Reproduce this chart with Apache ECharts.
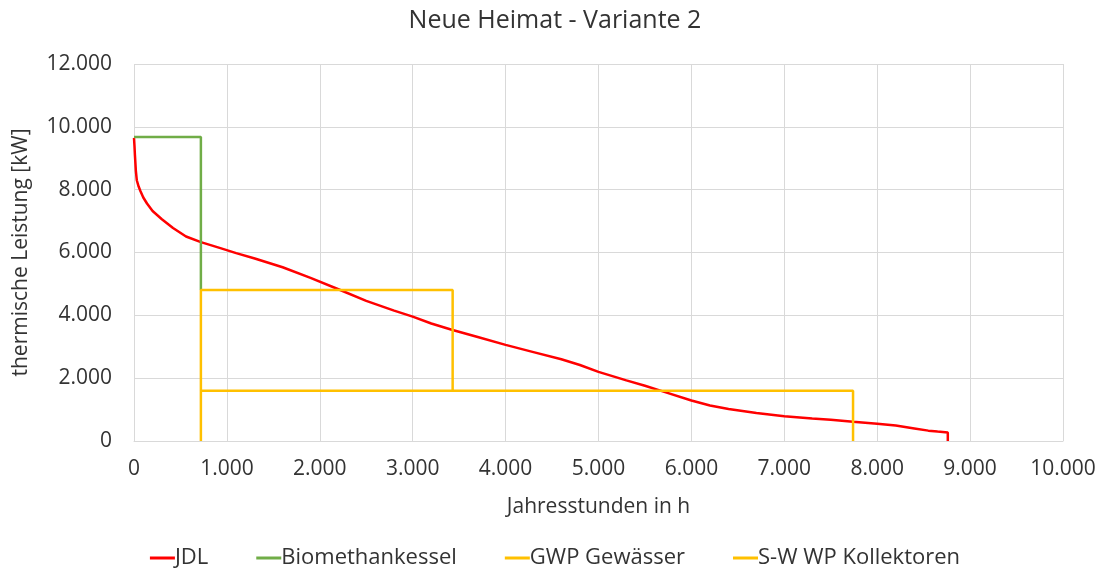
<!DOCTYPE html>
<html>
<head>
<meta charset="utf-8">
<script src="https://cdn.jsdelivr.net/npm/echarts@6/dist/echarts.min.js"></script>
<style>
  html, body { margin: 0; padding: 0; background: #fff; }
  #chart { width: 1110px; height: 576px; }
</style>
</head>
<body>
<div id="chart"></div>
<script>
// Jahresdauerlinie (JDL): hours of the year vs. thermal load in kW
const jdlHours = [0, 5, 10, 20, 30, 50, 70, 100, 140, 200, 300, 420, 560, 720, 930, 1100, 1300, 1600, 1900, 2200,
  2500, 2800, 3000, 3200, 3420, 3700, 4000, 4300, 4600, 4800, 5000, 5300, 5500, 5700, 6000, 6200, 6400, 6700,
  7000, 7300, 7500, 7740, 8000, 8200, 8400, 8550, 8650, 8760, 8760];
const jdlLoad = [9650, 9400, 9100, 8600, 8300, 8100, 7950, 7750, 7560, 7320, 7060, 6780, 6510, 6330, 6140, 5980, 5810, 5530, 5190, 4830,
  4460, 4150, 3960, 3740, 3540, 3310, 3060, 2830, 2600, 2420, 2200, 1930, 1760, 1570, 1290, 1130, 1020, 890,
  790, 720, 680, 615, 550, 490, 400, 330, 300, 270, 0];

// Generator outlines (hours, kW)
const biomethanHours = [0, 720, 720];
const biomethanLoad = [9680, 9680, 4810];
const gwpHours = [720, 720, 3430, 3430];
const gwpLoad = [1600, 4810, 4810, 1600];
const swwpHours = [720, 720, 7740, 7740];
const swwpLoad = [0, 1600, 1600, 0];

const seriesNames = ['JDL', 'Biomethankessel', 'GWP Gewässer', 'S-W WP Kollektoren'];
const seriesColors = ['#FF0000', '#70AD47', '#FFC000', '#FFC000'];

const pairs = (xs, ys) => xs.map((x, i) => [x, ys[i]]);
const fmt = v => String(Math.round(v)).replace(/\B(?=(\d{3})+(?!\d))/g, '.');

const FONT = 'Open Sans';
const TXT = '#333333';

const chart = echarts.init(document.getElementById('chart'), null, { renderer: 'canvas' });
const lineSeries = (name, data, color) => ({
  name, type: 'line', data, symbol: 'none', showSymbol: false,
  lineStyle: { color, width: 2.5 }, itemStyle: { color },
  animation: false
});

chart.setOption({
  animation: false,
  textStyle: { fontFamily: FONT },
  title: {
    text: 'Neue Heimat - Variante 2',
    left: 'center', top: 3,
    textStyle: { fontFamily: FONT, fontSize: 25, fontWeight: 'normal', color: TXT }
  },
  legend: {
    bottom: 2, left: 'center',
    itemWidth: 25, itemHeight: 3, itemGap: 48,
    icon: 'rect',
    textStyle: { fontFamily: FONT, fontSize: 22, color: TXT, padding: [0, 0, 0, -5] },
    data: seriesNames
  },
  grid: { left: 134, right: 47, top: 64, bottom: 135, containLabel: false },
  xAxis: {
    type: 'value', min: 0, max: 10000, interval: 1000,
    name: 'Jahresstunden in h', nameLocation: 'middle', nameGap: 56,
    nameTextStyle: { fontFamily: FONT, fontSize: 21, color: TXT },
    axisLine: { show: true, lineStyle: { color: '#D9D9D9', width: 1 } },
    axisTick: { show: false },
    axisLabel: { formatter: fmt, fontFamily: FONT, fontSize: 21, color: TXT, margin: 18 },
    splitLine: { show: true, lineStyle: { color: '#D9D9D9', width: 1 } }
  },
  yAxis: {
    type: 'value', min: 0, max: 12000, interval: 2000,
    name: 'thermische Leistung [kW]', nameLocation: 'middle', nameGap: 102,
    nameTextStyle: { fontFamily: FONT, fontSize: 21, color: TXT },
    axisLine: { show: false },
    axisTick: { show: false },
    axisLabel: { formatter: fmt, fontFamily: FONT, fontSize: 21, color: TXT, margin: 22 },
    splitLine: { show: true, lineStyle: { color: '#D9D9D9', width: 1 } }
  },
  series: [
    lineSeries(seriesNames[0], pairs(jdlHours, jdlLoad), seriesColors[0]),
    lineSeries(seriesNames[1], pairs(biomethanHours, biomethanLoad), seriesColors[1]),
    lineSeries(seriesNames[2], pairs(gwpHours, gwpLoad), seriesColors[2]),
    lineSeries(seriesNames[3], pairs(swwpHours, swwpLoad), seriesColors[3])
  ]
});
</script>
</body>
</html>
